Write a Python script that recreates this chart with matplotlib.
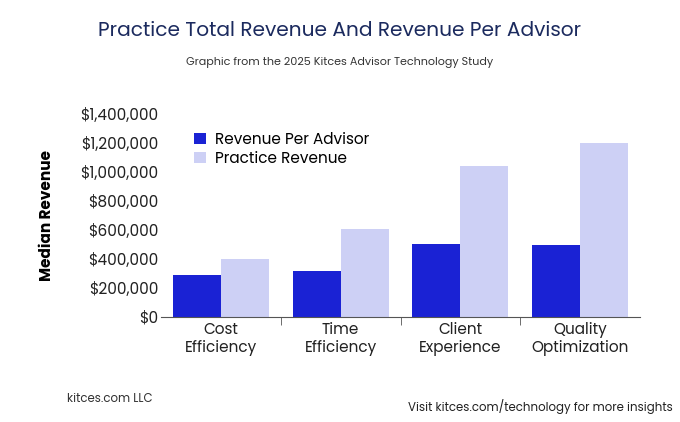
import numpy as np
import matplotlib.pyplot as plt
from matplotlib.ticker import FuncFormatter

plt.rcParams['font.family'] = ['Poppins', 'Lato', 'DejaVu Sans']

categories = ['Cost\nEfficiency', 'Time\nEfficiency', 'Client\nExperience', 'Quality\nOptimization']
revenue_per_advisor = [290000, 317000, 503000, 497000]
practice_revenue = [400000, 607000, 1041000, 1200000]

blue = '#1a22d4'
light = '#cdd0f5'

fig = plt.figure(figsize=(6.8, 4.22), dpi=100)
ax = fig.add_axes([0.237, 0.249, 0.704, 0.481])

x = np.arange(len(categories))
w = 0.4
ax.bar(x - w / 2, revenue_per_advisor, w, color=blue, label='Revenue Per Advisor')
ax.bar(x + w / 2, practice_revenue, w, color=light, label='Practice Revenue')

ax.set_ylim(0, 1400000)
ax.set_xlim(-0.5, 3.5)
ax.set_yticks(np.arange(0, 1400001, 200000))
ax.yaxis.set_major_formatter(FuncFormatter(lambda v, p: f'${v:,.0f}'))
ax.set_xticks(x)
ax.set_xticklabels(categories, fontsize=11, color='#222222', linespacing=1.1)
ax.set_xticks([0.5, 1.5, 2.5], minor=True)
ax.tick_params(axis='x', which='major', length=0, pad=4)
ax.tick_params(axis='x', which='minor', length=6, color='#555555')
ax.tick_params(axis='y', length=0, labelsize=11, labelcolor='#222222', pad=2)
for s in ['top', 'right', 'left']:
    ax.spines[s].set_visible(False)
ax.spines['bottom'].set_color('#555555')
ax.set_ylabel('Median Revenue', fontsize=11, fontweight='bold', labelpad=18)

leg = ax.legend(loc='upper left', bbox_to_anchor=(0.04, 0.98), frameon=False,
                fontsize=11, handlelength=0.8, handleheight=0.8,
                handletextpad=0.6, labelspacing=0.2)

fig.text(0.5, 0.915, 'Practice Total Revenue And Revenue Per Advisor',
         ha='center', fontsize=14.5, color='#1b2a5e')
fig.text(0.5, 0.845, 'Graphic from the 2025 Kitces Advisor Technology Study',
         ha='center', fontsize=8, color='#333333')
fig.text(0.098, 0.047, 'kitces.com LLC', ha='left', fontsize=8.5, color='#333333')
fig.text(0.99, 0.025, 'Visit kitces.com/technology for more insights',
         ha='right', fontsize=8.5, color='#222222')

fig.savefig('out.png', dpi=100)
